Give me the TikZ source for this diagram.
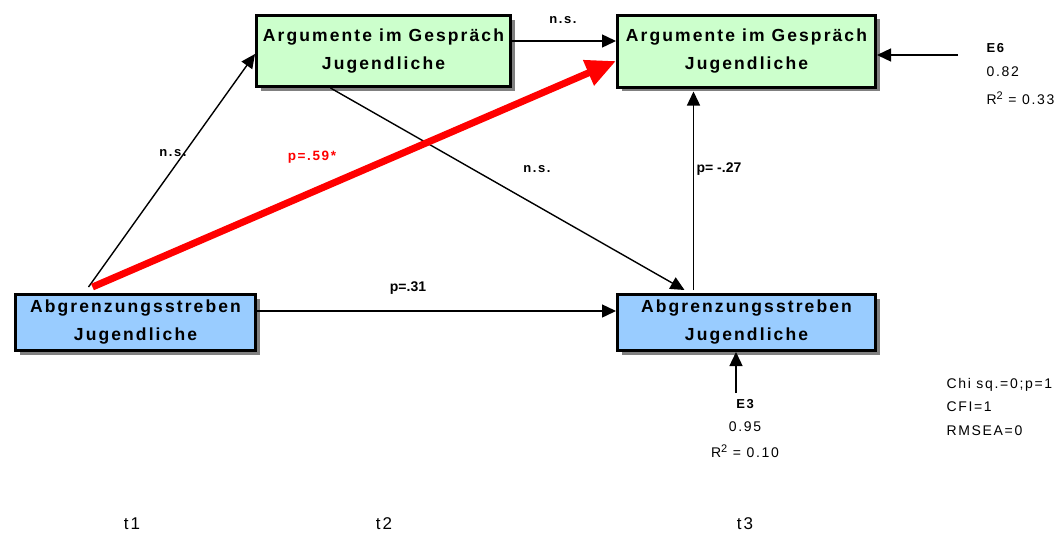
\documentclass[tikz,border=0pt]{standalone}
\usepackage{fontspec}
\setmainfont{Liberation Sans}
\newfontfamily\spaced[LetterSpace=12]{Liberation Sans}
\usetikzlibrary{arrows.meta, shadows}

\definecolor{boxblue}{HTML}{99CCFF}
\definecolor{boxgreen}{HTML}{CCFFCC}

\newcommand{\rsq}[1]{R\raisebox{0.35em}{\fontsize{11}{11}\selectfont 2}\ =\ #1}

\tikzset{
  var/.style={draw=black, line width=3pt, align=center, inner sep=0pt,
    font=\spaced\bfseries\fontsize{17.5}{28}\selectfont,
    drop shadow={shadow xshift=4pt, shadow yshift=-4pt, opacity=1, fill=black!50}},
  path/.style={-{Triangle[length=14pt,width=13pt]}, line width=1.4pt},
  lab/.style={font=\spaced\bfseries\fontsize{13}{15}\selectfont},
  coef/.style={font=\bfseries\fontsize{14}{16}\selectfont},
  info/.style={font=\spaced\fontsize{14}{16}\selectfont},
  tlab/.style={font=\spaced\fontsize{17}{19}\selectfont},
}

\begin{document}
\begin{tikzpicture}[x=1pt,y=-1pt]
\useasboundingbox (0,0) rectangle (1064,536);
% variables
\node[var, fill=boxblue, minimum width=240pt, minimum height=56pt] (A1) at (135.5,322.5) {Abgrenzungsstreben\\Jugendliche};
\node[var, fill=boxgreen, minimum width=254pt, minimum height=71pt] (G2) at (383.5,51) {Argumente im Gespräch\\Jugendliche};
\node[var, fill=boxgreen, minimum width=258pt, minimum height=72pt] (G3) at (746.5,51) {Argumente im Gespräch\\Jugendliche};
\node[var, fill=boxblue, minimum width=258pt, minimum height=56pt] (A3) at (746.5,322.5) {Abgrenzungsstreben\\Jugendliche};
% error terms
\coordinate (e6) at (958,55);
\coordinate (e3) at (736,393);
% paths
\draw[path] ([xshift=-47pt,yshift=6pt]A1.north) -- ([yshift=-3pt]G2.west);
\draw[path] ([yshift=10pt]G2.east) -- ([yshift=10pt]G3.west);
\draw[path] ([xshift=-53pt]G2.south) -- ([xshift=-62pt,yshift=3pt]A3.north);
\draw[path] ([xshift=-53pt,yshift=3pt]A3.north) -- ([xshift=-53pt,yshift=-3pt]G3.south);
\draw[path] ([yshift=11.5pt]A1.east) -- ([yshift=11.5pt]A3.west);
\draw[path] (e6) -- ([yshift=-4pt]G3.east);
\draw[path] (e3) -- ([xshift=-10.5pt]A3.south);
\draw[red, line width=7pt, -{Triangle[length=30pt,width=26pt]}] ([xshift=-43pt,yshift=6pt]A1.north) -- ([yshift=-10pt]G3.west);
% labels
\node[lab] (l1) at (173,153) {n.s.};
\node[lab, red, font=\spaced\bfseries\fontsize{13.5}{15}\selectfont] (l2) at (312,157) {p=.59*};
\node[lab] (l3) at (563,20) {n.s.};
\node[lab] (l4) at (537,169) {n.s.};
\node[coef] (l5) at (719,169) {p= -.27};
\node[coef] (l6) at (408,288) {p=.31};
% error labels
\node[lab, anchor=west] (E6) at (983,48) {E6};
\node[info, anchor=west] (v6) at (983,72) {0.82};
\node[info, anchor=west] (r6) at (983,98) {\rsq{0.33}};
\node[lab] (E3) at (745,404) {E3};
\node[info] (v3) at (745,427) {0.95};
\node[info] (r3) at (745,451) {\rsq{0.10}};
% fit
\node[info, anchor=west] (f1) at (943,385) {Chi\ sq.=0;p=1};
\node[info, anchor=west] (f2) at (943,407) {CFI=1};
\node[info, anchor=west] (f3) at (943,431) {RMSEA=0};
% time points
\node[tlab] (t1) at (132,524) {t1};
\node[tlab] (t2) at (384,524) {t2};
\node[tlab] (t3) at (745,524) {t3};
\end{tikzpicture}
\end{document}
